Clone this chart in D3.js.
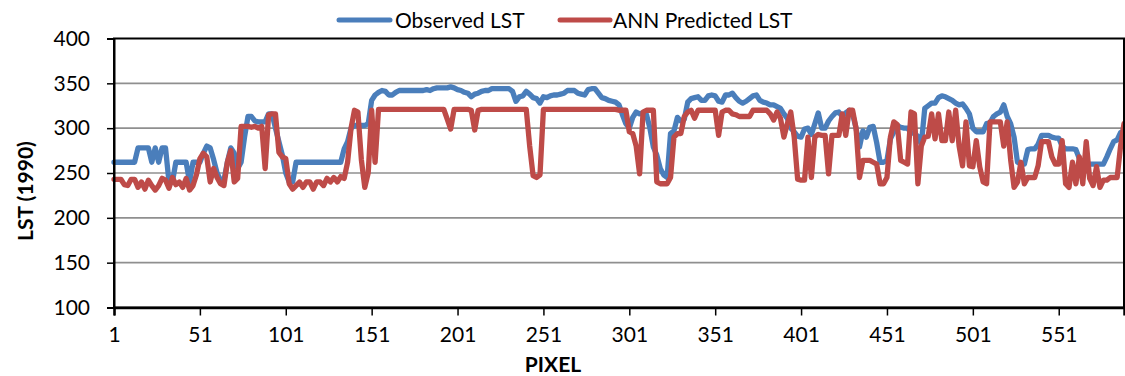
<!DOCTYPE html>
<html>
<head>
<meta charset="utf-8">
<script src="https://cdn.jsdelivr.net/npm/d3@7"></script>
<style>
  html, body { margin: 0; padding: 0; background: #fff; }
  svg { display: block; font-family: Lato, "Open Sans", sans-serif; }
</style>
</head>
<body>
<svg id="chart" width="1125" height="376"></svg>
<script>
// Pixel positions sampled along the transect (every second pixel)
const pixels = d3.range(1, 590, 2);

// Observed land surface temperature, 1990
const observedLST = [
  262,262,262,262,262,262,262,278,278,278,
  278,262,278,262,278,278,240,240,262,262,
  262,262,240,262,262,262,272,280,278,265,
  250,242,242,262,278,272,255,262,290,313,
  313,308,307,307,307,316,316,300,285,270,
  250,240,240,262,262,262,262,262,262,262,
  262,262,262,262,262,262,262,277,285,300,
  303,303,303,303,305,331,337,340,342,341,
  337,337,340,342,342,342,342,342,342,342,
  342,343,342,344,345,345,345,345,346,345,
  343,342,340,339,335,338,339,341,342,342,
  344,344,344,344,344,344,341,330,335,336,
  341,338,334,333,328,335,334,336,337,337,
  338,339,342,342,342,339,338,337,343,344,
  344,339,334,333,331,330,329,326,315,305,
  300,312,318,316,317,315,300,279,270,255,
  248,245,294,297,312,308,310,329,333,334,
  335,331,331,336,337,336,330,329,337,337,
  339,334,330,328,330,333,336,337,331,329,
  328,326,326,324,322,316,311,300,296,291,
  290,299,300,293,305,317,300,300,308,313,
  317,318,313,317,320,316,300,279,297,290,
  301,302,284,262,262,264,288,296,303,301,
  300,300,295,294,291,282,322,325,328,328,
  334,336,335,333,331,328,326,327,322,316,
  300,296,296,296,305,306,313,316,318,326,
  313,305,290,262,260,260,276,277,277,282,
  292,292,292,290,289,289,280,277,277,277,
  276,266,260,260,260,260,260,260,260,268,
  277,285,287,295,297
];

// ANN predicted land surface temperature
const predictedLST = [
  243,243,243,237,236,243,243,234,240,232,
  242,236,231,236,244,242,233,245,237,240,
  234,244,231,236,248,266,272,268,240,255,
  245,238,236,262,275,240,244,302,302,302,
  301,302,300,302,255,315,316,316,273,268,
  266,238,232,236,240,234,240,240,232,240,
  240,236,244,240,245,240,246,244,262,300,
  320,318,265,234,250,320,262,321,321,321,
  321,321,321,321,321,321,321,321,321,321,
  321,321,321,321,321,321,321,310,299,321,
  321,321,321,321,320,298,320,321,321,321,
  321,321,321,321,321,321,321,321,321,321,
  321,280,247,245,248,321,321,321,321,321,
  321,321,321,321,321,321,321,321,321,321,
  321,321,321,321,321,321,321,320,320,320,
  296,294,280,249,318,320,320,320,240,238,
  238,238,245,290,294,294,313,318,320,311,
  320,320,320,320,320,320,292,318,320,320,
  316,315,313,313,313,313,320,320,320,320,
  320,316,309,318,311,290,305,318,290,243,
  242,242,290,245,290,293,292,292,249,292,
  292,292,316,292,320,320,300,245,264,264,
  264,262,260,238,238,245,290,307,304,264,
  262,260,318,316,238,280,290,291,316,288,
  316,286,286,318,286,320,280,258,307,258,
  257,286,257,240,238,307,307,307,307,280,
  307,265,234,240,262,238,245,245,245,258,
  285,285,285,268,260,260,286,238,234,262,
  238,268,238,285,244,236,257,234,242,242,
  245,245,245,280,305
];

const yTicks = [100, 150, 200, 250, 300, 350, 400];
const xTicks = [1, 51, 101, 151, 201, 251, 301, 351, 401, 451, 501, 551];
const seriesNames = ["Observed LST", "ANN Predicted LST"];
const seriesColors = ["#4A7EBB", "#BE4B48"];

const svg = d3.select("#chart");
const plotLeft = 114, plotRight = 1124, plotTop = 38.5, plotBottom = 307.5;

const x = d3.scaleLinear().domain([1, 589]).range([plotLeft, plotRight]);
const y = d3.scaleLinear().domain([100, 400]).range([plotBottom, plotTop]);

// horizontal gridlines
svg.append("g")
  .selectAll("line")
  .data(yTicks.filter(v => v > 100 && v < 400))
  .join("line")
  .attr("x1", plotLeft).attr("x2", plotRight)
  .attr("y1", d => y(d)).attr("y2", d => y(d))
  .attr("stroke", "#8f8f8f")
  .attr("stroke-width", 1.6);

// series lines
const line = d3.line()
  .x((d, i) => x(pixels[i]))
  .y(d => y(d));

[observedLST, predictedLST].forEach((vals, k) => {
  svg.append("path")
    .datum(vals)
    .attr("d", line)
    .attr("fill", "none")
    .attr("stroke", seriesColors[k])
    .attr("stroke-width", 5.3)
    .attr("stroke-linejoin", "round")
    .attr("stroke-linecap", "round");
});

// plot frame
svg.append("rect")
  .attr("x", plotLeft).attr("y", plotTop)
  .attr("width", plotRight - plotLeft).attr("height", plotBottom - plotTop)
  .attr("fill", "none")
  .attr("stroke", "#000")
  .attr("stroke-width", 2);

// y axis
const yAxis = d3.axisLeft(y).tickValues(yTicks).tickSize(7).tickPadding(17);
const gy = svg.append("g").attr("transform", `translate(${plotLeft},0)`).call(yAxis);
gy.select(".domain").attr("stroke", "#000").attr("stroke-width", 2);
gy.selectAll(".tick line").attr("stroke", "#000").attr("stroke-width", 1.5);
gy.selectAll(".tick text")
  .attr("font-family", "Lato, sans-serif")
  .attr("font-size", 21)
  .attr("fill", "#000");

// x axis
const xAxis = d3.axisBottom(x).tickValues(xTicks).tickSize(8).tickPadding(12).tickFormat(d3.format("d"));
const gx = svg.append("g").attr("transform", `translate(0,${plotBottom})`).call(xAxis);
gx.select(".domain").attr("stroke", "#000").attr("stroke-width", 2.5);
gx.selectAll(".tick line").attr("stroke", "#000").attr("stroke-width", 1.5);
gx.selectAll(".tick text")
  .attr("font-family", "Lato, sans-serif")
  .attr("font-size", 21)
  .attr("fill", "#000");

// axis titles
svg.append("text")
  .attr("x", 553).attr("y", 371.5)
  .attr("text-anchor", "middle")
  .attr("font-size", 21)
  .attr("font-weight", "bold")
  .text("PIXEL");

svg.append("text")
  .attr("transform", "translate(33,191) rotate(-90)")
  .attr("text-anchor", "middle")
  .attr("font-size", 21)
  .attr("font-weight", "bold")
  .text("LST (1990)");

// legend
const legendItems = [
  { x0: 339, x1: 390, tx: 395 },
  { x0: 560, x1: 610, tx: 613 }
];
legendItems.forEach((it, k) => {
  svg.append("line")
    .attr("x1", it.x0).attr("x2", it.x1)
    .attr("y1", 20).attr("y2", 20)
    .attr("stroke", seriesColors[k])
    .attr("stroke-width", 5)
    .attr("stroke-linecap", "round");
  svg.append("text")
    .attr("x", it.tx).attr("y", 28)
    .attr("font-size", 21)
    .text(seriesNames[k]);
});
</script>
</body>
</html>
